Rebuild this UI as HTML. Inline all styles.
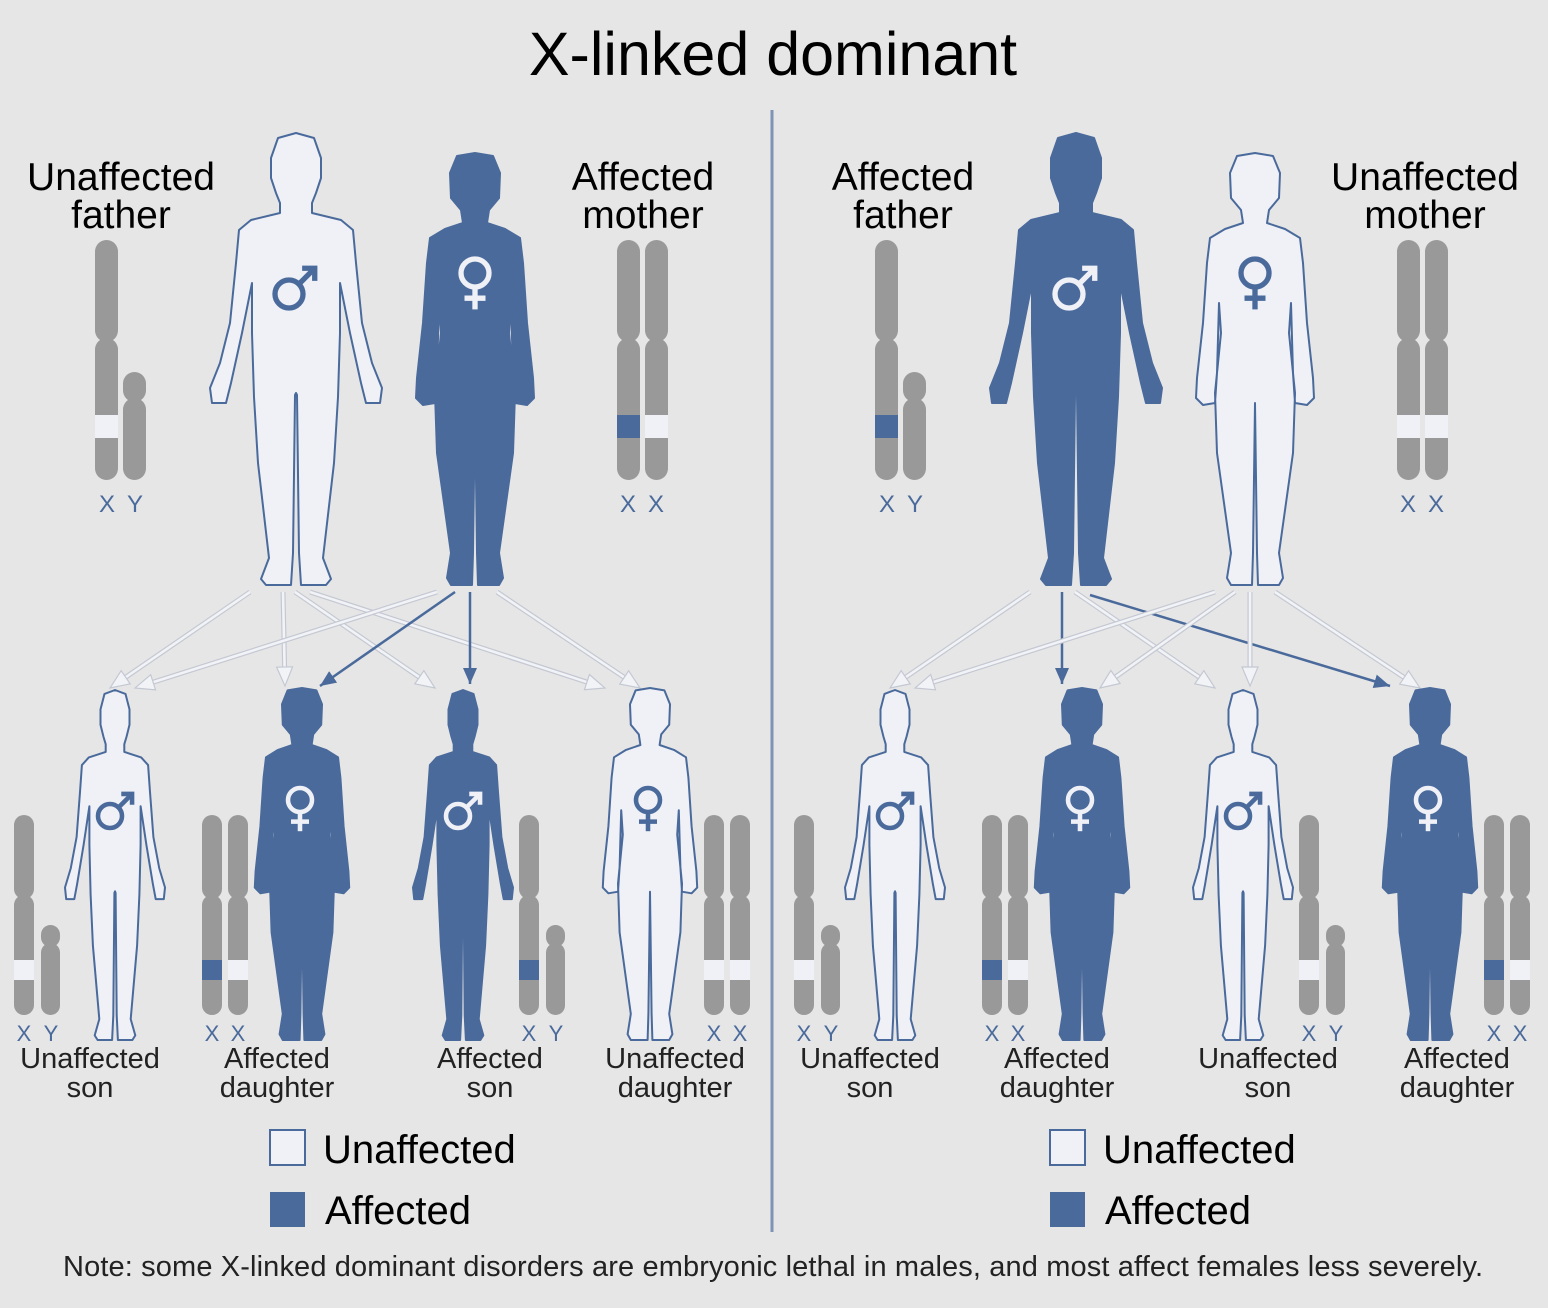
<!DOCTYPE html>
<html><head><meta charset="utf-8"><style>
html,body{margin:0;padding:0;background:#e6e6e6;}
svg{display:block;font-family:"Liberation Sans",sans-serif;}
</style></head><body>
<svg id="c" width="1548" height="1308" viewBox="0 0 1548 1308">
<defs>
<marker id="mb" markerUnits="userSpaceOnUse" markerWidth="20" markerHeight="20" refX="16" refY="8" orient="auto"><path d="M0,1 L16,8 L0,15 Z" fill="#4a6a9c"/></marker>
<marker id="ml" markerUnits="userSpaceOnUse" markerWidth="24" markerHeight="24" refX="20" refY="10" orient="auto"><path d="M1,2 L20,10 L1,18 Z" fill="#f2f3f7" stroke="#c4c8d2" stroke-width="1.2"/></marker>
</defs>
<rect width="1548" height="1308" fill="#e6e6e6"/>
<text x="773" y="75" font-size="61" text-anchor="middle" fill="#000">X-linked dominant</text>
<line x1="772" y1="110" x2="772" y2="1232" stroke="#7f93b5" stroke-width="3"/>
<g id="g"></g>
<text x="773" y="1276" font-size="29" text-anchor="middle" fill="#222" textLength="1420">Note: some X-linked dominant disorders are embryonic lethal in males, and most affect females less severely.</text>
</svg>
<script>
const BLUE="#4a6a9c", LIGHT="#eff1f7";
const NS="http://www.w3.org/2000/svg";
const g=document.getElementById('g');
function mk(tag,attrs,parent){const e=document.createElementNS(NS,tag);for(const k in attrs)e.setAttribute(k,attrs[k]);(parent||g).appendChild(e);return e;}

const malePts=[[0,0],[18,5],[25,25],[25,45],[20,60],[16,70],[16,80],[45,87],[57,97],[60,130],[66,190],[76,230],[86,255],[84,270],[70,270],[65,250],[54,200],[44,150],[44,200],[42,264],[38,330],[27,425],[35,446],[30,452],[5,452],[3,420],[1,262],[0,260]];
const femPts=[[0,0],[18,3],[25,20],[24,45],[14,57],[12,70],[30,76],[45,85],[48,110],[52,170],[58,225],[59,245],[52,252],[40,250],[38,220],[36,150],[34,180],[40,240],[38,300],[24,400],[28,425],[24,432],[3,432],[2,400],[0,250]];
function figPath(pts,bw,bh,cx,top,w,h){
  const sx=w/bw, sy=h/bh;
  const r=pts.map(p=>[cx+p[0]*sx, top+p[1]*sy]);
  const l=pts.slice().reverse().map(p=>[cx-p[0]*sx, top+p[1]*sy]);
  const all=r.concat(l);
  return 'M'+all.map(p=>p[0].toFixed(1)+','+p[1].toFixed(1)).join(' L')+' Z';
}
function figure(sex,cx,top,w,h,affected,name){
  const d= sex==='m'?figPath(malePts,172,452,cx,top,w,h):figPath(femPts,120,432,cx,top,w,h);
  const p=mk('path',{d:d,fill:affected?BLUE:LIGHT,stroke:BLUE,'stroke-width':2,'stroke-linejoin':'round'});
  
  
}
function sym(sex,cx,cy,r,color,name){
  const gg=mk('g',{stroke:color,'stroke-width':r*0.38,fill:'none','stroke-linecap':'butt'});
  
  
  mk('circle',{cx:cx,cy:cy,r:r},gg);
  if(sex==='m'){
    const a=Math.PI/4, x0=cx+r*Math.cos(a), y0=cy-r*Math.sin(a), L=r*1.6;
    const x1=x0+L*Math.cos(a), y1=y0-L*Math.sin(a);
    mk('line',{x1:x0,y1:y0,x2:x1,y2:y1},gg);
    mk('path',{d:`M${x1-r*0.9},${y1} L${x1},${y1} L${x1},${y1+r*0.9}`,'stroke-linejoin':'miter'},gg);
  } else {
    mk('line',{x1:cx,y1:cy+r,x2:cx,y2:cy+r*2.6},gg);
    mk('line',{x1:cx-r*0.75,y1:cy+r*1.8,x2:cx+r*0.75,y2:cy+r*1.8},gg);
  }
}
function chrom(x,w,top,cen,bot,band,bandTop,bandH,name){
  const gg=mk('g',{fill:'#999'});
  
  
  mk('rect',{x:x,y:top,width:w,height:cen-top+2,rx:w/2},gg);
  mk('rect',{x:x,y:cen-2,width:w,height:bot-cen+2,rx:w/2},gg);
  if(band) mk('rect',{x:x,y:bandTop,width:w,height:bandH,fill:band==='a'?BLUE:LIGHT},gg);
}
function label(x,y,txt,size,color,name){
  const t=mk('text',{x:x,y:y,'font-size':size,'text-anchor':'middle',fill:color});
  t.textContent=txt;
  
  
}
function arrow(x1,y1,x2,y2,blue,name){
  if(blue){
    const l=mk('line',{x1,y1,x2,y2,stroke:BLUE,'stroke-width':2.5,'marker-end':'url(#mb)'});
    
    
  } else {
    const gg=mk('g',{});
    
    
    const dx=x2-x1, dy=y2-y1, L=Math.hypot(dx,dy), k=(L-18)/L;
    mk('line',{x1,y1,x2:x1+dx*k,y2:y1+dy*k,stroke:'#c4c8d2','stroke-width':5},gg);
    mk('line',{x1,y1,x2:x1+dx*k,y2:y1+dy*k,stroke:'#f2f3f7','stroke-width':2.6},gg);
    mk('line',{x1:x2-dx/L,y1:y2-dy/L,x2:x2,y2:y2,stroke:'none','marker-end':'url(#ml)'},gg);
  }
}
const panels=[
 {off:0, fa:false, ma:true, fBand:'u', mBands:['a','u'], kids:[false,true,true,false],
  kidBands:[['u'],['a','u'],['a'],['u','u']], fLabel:['Unaffected','father'], mLabel:['Affected','mother'], fx:121, mx:643,
  kidLabels:[['Unaffected','son'],['Affected','daughter'],['Affected','son'],['Unaffected','daughter']],
  arrows:[[250,592,110,688,0],[283,592,285,686,0],[295,592,435,688,0],[310,592,605,688,0],[437,592,135,688,0],[455,592,320,686,1],[470,592,470,684,1],[497,592,640,688,0]]},
 {off:780, fa:true, ma:false, fBand:'a', mBands:['u','u'], kids:[false,true,false,true],
  kidBands:[['u'],['a','u'],['u'],['a','u']], fLabel:['Affected','father'], mLabel:['Unaffected','mother'], fx:903, mx:1425,
  kidLabels:[['Unaffected','son'],['Affected','daughter'],['Unaffected','son'],['Affected','daughter']],
  arrows:[[1030,592,890,688,0],[1062,592,1062,684,1],[1075,592,1215,688,0],[1090,595,1390,686,1],[1215,592,915,688,0],[1235,592,1100,688,0],[1250,592,1250,686,0],[1275,592,1420,688,0]]}
];
const kidSex=['m','f','m','f'];
const kidCx=[115,302,463,650];
const kidChromX=[14,202,519,704];
panels.forEach((P,pi)=>{
  const o=P.off, side=pi===0?'left':'right';
  P.arrows.forEach((a,i)=>arrow(a[0],a[1],a[2],a[3],a[4],side+'-arrow-'+i));
  label(P.fx,190,P.fLabel[0],39,'#000',side+'-father-label');
  label(P.fx,228,P.fLabel[1],39,'#000',side+'-father-label-2');
  label(P.mx,190,P.mLabel[0],39,'#000',side+'-mother-label');
  label(P.mx,228,P.mLabel[1],39,'#000',side+'-mother-label-2');
  chrom(95+o,23,240,340,480,P.fBand,415,23,side+'-father-x');
  chrom(123+o,23,372,400,480,null,0,0,side+'-father-y');
  label(107+o,512,'X',24,BLUE,side+'-father-x-label');
  label(135+o,512,'Y',24,BLUE,side+'-father-y-label');
  chrom(617+o,23,240,340,480,P.mBands[0],415,23,side+'-mother-x1');
  chrom(645+o,23,240,340,480,P.mBands[1],415,23,side+'-mother-x2');
  label(628+o,512,'X',24,BLUE,side+'-mother-x1-label');
  label(656+o,512,'X',24,BLUE,side+'-mother-x2-label');
  figure('m',296+o,133,172,452,P.fa,side+'-father');
  sym('m',289+o,294,14,P.fa?LIGHT:BLUE,side+'-father-symbol');
  figure('f',475+o,153,120,432,P.ma,side+'-mother');
  sym('f',475+o,273,14,P.ma?LIGHT:BLUE,side+'-mother-symbol');
  const kidLabelX=[90,277,490,675];
  for(let i=0;i<4;i++){
    const aff=P.kids[i], sx=kidSex[i], cx=kidCx[i]+o, kn=side+'-child-'+(i+1);
    if(sx==='m') figure('m',cx,690,100,350,aff,kn); else figure('f',cx,688,96,352,aff,kn);
    if(sx==='m') sym('m',cx-5,816,12,aff?LIGHT:BLUE,kn+'-symbol'); else sym('f',cx-2,800,12,aff?LIGHT:BLUE,kn+'-symbol');
    const chx=kidChromX[i]+o, b=P.kidBands[i];
    chrom(chx,20,815,897,1015,b[0],960,20,kn+'-chrom-x');
    if(sx==='m'){
      chrom(chx+27,19,925,945,1015,null,0,0,kn+'-chrom-y');
      label(chx+10,1041,'X',22,BLUE,kn+'-x-label');label(chx+37,1041,'Y',22,BLUE,kn+'-y-label');
    } else {
      chrom(chx+26,20,815,897,1015,b[1],960,20,kn+'-chrom-x2');
      label(chx+10,1041,'X',22,BLUE,kn+'-x-label');label(chx+36,1041,'X',22,BLUE,kn+'-x2-label');
    }
    const lx=kidLabelX[i]+o-(pi&&i===2?2:0)+(pi&&i===3?2:0);
    label(lx,1068,P.kidLabels[i][0],29,'#222',kn+'-label');
    label(lx,1097,P.kidLabels[i][1],29,'#222',kn+'-label-2');
  }
  const lu=mk('rect',{x:270+o,y:1130,width:35,height:35,fill:LIGHT,stroke:BLUE,'stroke-width':2});
  
  
  const la=mk('rect',{x:270+o,y:1192,width:35,height:35,fill:BLUE});
  
  
  const t1=mk('text',{x:323+o,y:1163,'font-size':40,fill:'#000'});t1.textContent='Unaffected';
  
  
  const t2=mk('text',{x:325+o,y:1224,'font-size':40,fill:'#000'});t2.textContent='Affected';
  
  
});
</script>
</body></html>
